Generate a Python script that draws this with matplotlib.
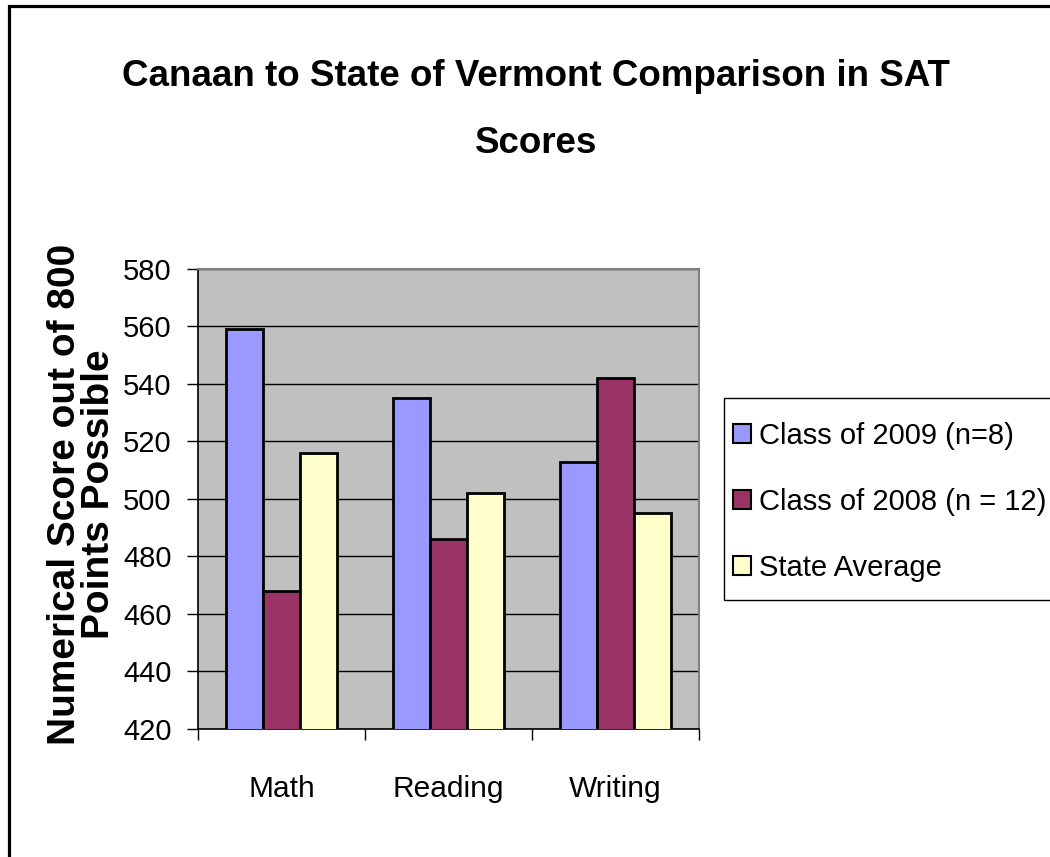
import matplotlib
matplotlib.use("Agg")
import matplotlib.pyplot as plt
import numpy as np
from matplotlib.patches import Patch, Rectangle

plt.rcParams['font.family'] = ['Liberation Sans', 'DejaVu Sans']

categories = ["Math", "Reading", "Writing"]
series_names = ["Class of 2009 (n=8)", "Class of 2008 (n = 12)", "State Average"]
class_2009 = [559, 535, 513]
class_2008 = [468, 486, 542]
state_avg = [516, 502, 495]
series_values = [class_2009, class_2008, state_avg]
colors = ["#9999FF", "#993366", "#FFFFCC"]
y_ticks = [420, 440, 460, 480, 500, 520, 540, 560, 580]

W, H = 1050, 857
fig = plt.figure(figsize=(W / 100, H / 100), dpi=100)
fig.patch.set_facecolor("white")

# figure border
fig.add_artist(Rectangle((9 / W, -0.05), 1.2, 1.05 - 5.5 / H, transform=fig.transFigure,
                         fill=False, edgecolor="black", linewidth=2.3))

ax_l, ax_r, ax_t, ax_b = 198, 699, 269, 729
ax = fig.add_axes([ax_l / W, 1 - ax_b / H, (ax_r - ax_l) / W, (ax_b - ax_t) / H])
ax.set_facecolor("#C0C0C0")

x = np.arange(len(categories))
bw = 1 / 4.5
for i, (vals, c, name) in enumerate(zip(series_values, colors, series_names)):
    ax.bar(x + (i - 1) * bw, vals, width=bw, color=c, edgecolor="black",
           linewidth=2.0, label=name, zorder=3)

ax.set_ylim(420, 580)
ax.set_xlim(-0.5, 2.5)
ax.set_yticks(y_ticks)
ax.set_yticklabels([str(v) for v in y_ticks], fontsize=21)
ax.grid(axis="y", color="black", linewidth=1.0, zorder=1)
ax.set_axisbelow(True)

ax.set_xticks([-0.5, 0.5, 1.5, 2.5])
ax.set_xticklabels([])
ax.set_xticks(x, minor=True)
ax.set_xticklabels(categories, minor=True, fontsize=21.5)
ax.tick_params(axis="x", which="minor", length=0, pad=33)
ax.tick_params(axis="x", which="major", length=8, width=1, direction="out")
ax.tick_params(axis="y", length=8, width=1, direction="out", pad=11)

for s in ["top", "right"]:
    ax.spines[s].set_color("#808080")
    ax.spines[s].set_linewidth(1.5)
for s in ["left", "bottom"]:
    ax.spines[s].set_color("black")
    ax.spines[s].set_linewidth(1.2)

fig.text(82 / W, 1 - 494 / H, "Numerical Score out of 800\nPoints Possible",
         rotation=90, ha="center", va="center", fontsize=28, fontweight="bold",
         linespacing=0.95)

fig.text(536 / W, 1 - 86 / H, "Canaan to State of Vermont Comparison in SAT",
         ha="center", va="baseline", fontsize=26.5, fontweight="bold")
fig.text(536 / W, 1 - 153 / H, "Scores",
         ha="center", va="baseline", fontsize=26.5, fontweight="bold")

# legend frame (extends past the right edge like the reference)
fig.add_artist(Rectangle((724 / W, 1 - 600 / H), 400 / W, 202 / H,
                         transform=fig.transFigure, fill=True, facecolor="white",
                         edgecolor="black", linewidth=1.0, zorder=2))
handles = [Patch(facecolor=c, edgecolor="black", linewidth=1.5) for c in colors]
leg = fig.legend(handles, series_names, loc="upper left",
                 bbox_to_anchor=(733 / W, 1 - 422 / H), bbox_transform=fig.transFigure,
                 fontsize=21, frameon=False,
                 handlelength=0.6, handleheight=0.6,
                 handletextpad=0.3, labelspacing=1.3, borderpad=0,
                 borderaxespad=0)
leg.set_zorder(3)

fig.savefig("out.png", dpi=100, facecolor="white")
